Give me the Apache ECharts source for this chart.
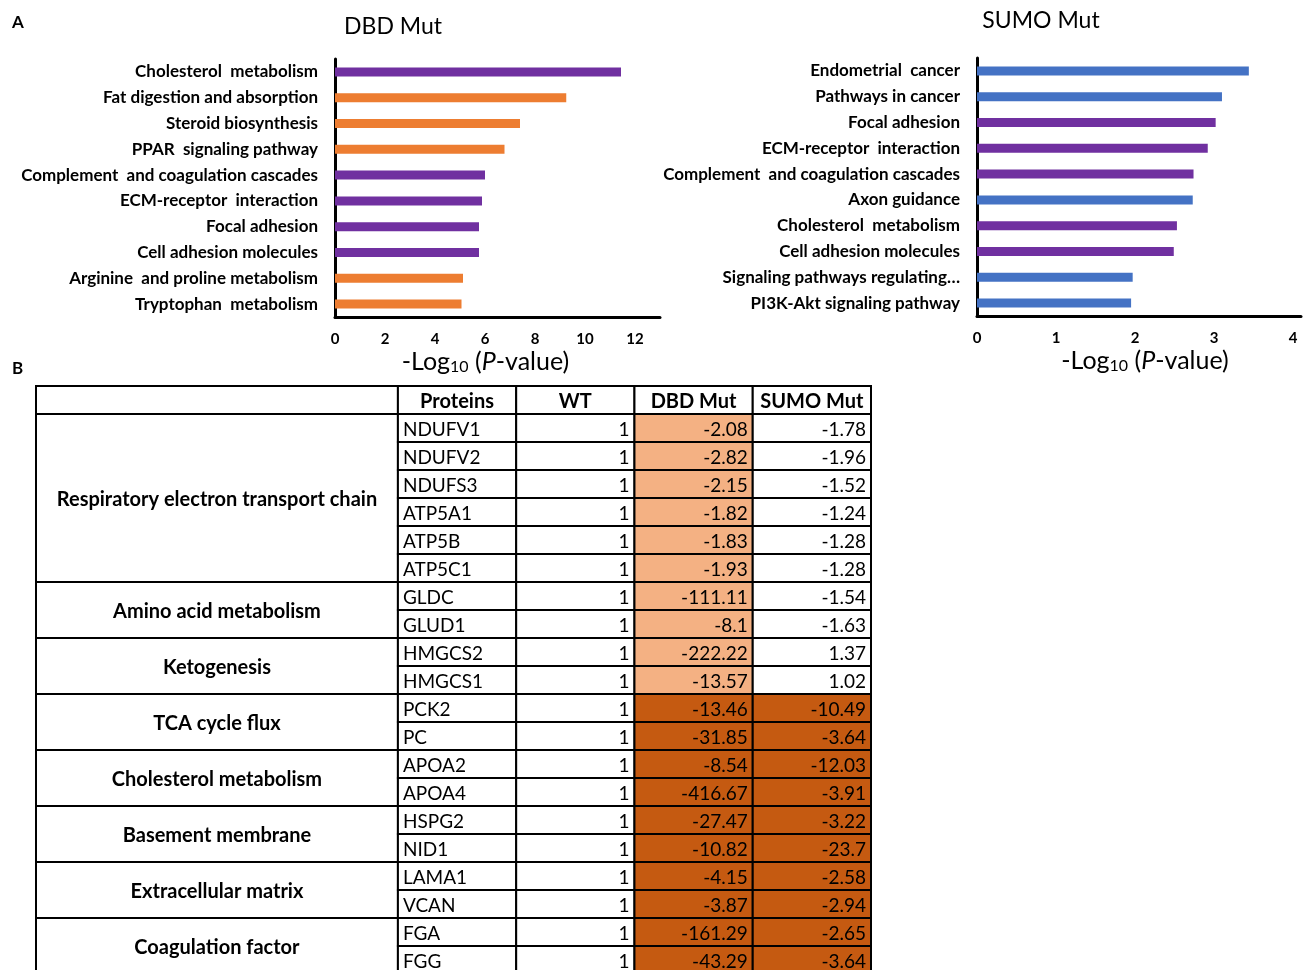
<!DOCTYPE html>
<html><head><meta charset="utf-8">
<script src="https://cdn.jsdelivr.net/npm/echarts@6/dist/echarts.min.js"></script>
<style>html,body{margin:0;padding:0;background:#fff}#c{width:1304px;height:970px}</style>
</head><body><div id="c"></div>
<script>
// ---------- Panel A data ----------
const dbdPathways = ['Cholesterol  metabolism','Fat digestion and absorption','Steroid biosynthesis','PPAR  signaling pathway','Complement  and coagulation cascades','ECM-receptor  interaction','Focal adhesion','Cell adhesion molecules','Arginine  and proline metabolism','Tryptophan  metabolism'];
const dbdValues = [11.44, 9.25, 7.40, 6.78, 6.00, 5.88, 5.76, 5.76, 5.12, 5.06];
const dbdShared = [true, false, false, false, true, true, true, true, false, false];
const dbdTickLabels = [0, 2, 4, 6, 8, 10, 12];

const sumoPathways = ['Endometrial  cancer','Pathways in cancer','Focal adhesion','ECM-receptor  interaction','Complement  and coagulation cascades','Axon guidance','Cholesterol  metabolism','Cell adhesion molecules','Signaling pathways regulating…','PI3K-Akt signaling pathway'];
const sumoValues = [3.44, 3.10, 3.02, 2.92, 2.74, 2.73, 2.53, 2.49, 1.97, 1.95];
const sumoShared = [false, false, true, true, true, false, true, true, false, false];
const sumoTickLabels = [0, 1, 2, 3, 4];

// ---------- Panel B data ----------
const tableHeaders = ['', 'Proteins', 'WT', 'DBD Mut', 'SUMO Mut'];
const groupNames = ['Respiratory electron transport chain','Amino acid metabolism','Ketogenesis','TCA cycle flux','Cholesterol metabolism','Basement membrane','Extracellular matrix','Coagulation factor'];
const groupSizes = [6, 2, 2, 2, 2, 2, 2, 2];
const groupLevel = ['dbd', 'dbd', 'dbd', 'both', 'both', 'both', 'both', 'both'];
const proteins = ['NDUFV1','NDUFV2','NDUFS3','ATP5A1','ATP5B','ATP5C1','GLDC','GLUD1','HMGCS2','HMGCS1','PCK2','PC','APOA2','APOA4','HSPG2','NID1','LAMA1','VCAN','FGA','FGG'];
const wtValues = [1,1,1,1,1,1,1,1,1,1,1,1,1,1,1,1,1,1,1,1];
const dbdFold = [-2.08,-2.82,-2.15,-1.82,-1.83,-1.93,-111.11,-8.1,-222.22,-13.57,-13.46,-31.85,-8.54,-416.67,-27.47,-10.82,-4.15,-3.87,-161.29,-43.29];
const sumoFold = [-1.78,-1.96,-1.52,-1.24,-1.28,-1.28,-1.54,-1.63,1.37,1.02,-10.49,-3.64,-12.03,-3.91,-3.22,-23.7,-2.58,-2.94,-2.65,-3.64];

// ---------- styling ----------
const FONT = 'Lato, "Liberation Sans", sans-serif';
const PURPLE = '#7030A0', ORANGE = '#ED7D31', BLUE = '#4472C4';
const LIGHT = '#F4B183', DARK = '#C55A11';

const chart = echarts.init(document.getElementById('c'), null, {renderer: 'canvas'});

const axisName = '{n|-Log}{s|10}{n| (}{i|P}{n|-value)}';
const nameRich = {
  n: {fontSize: 25, fontFamily: FONT, color: '#000'},
  s: {fontSize: 16, fontFamily: FONT, color: '#000', verticalAlign: 'bottom', padding: [11, 0, 0, 0]},
  i: {fontSize: 25, fontFamily: FONT, fontStyle: 'italic', color: '#000'}
};

function valueAxis(gridIndex, max, interval, ticks, namePad) {
  return {
    type: 'value', gridIndex, min: 0, max, interval,
    axisLine: {show: true, lineStyle: {color: '#000', width: 3}},
    axisTick: {show: false}, splitLine: {show: false},
    axisLabel: {color: '#000', fontFamily: FONT, fontWeight: 'bold', fontSize: 15, margin: 15,
      formatter: v => ticks.some(t => Math.abs(t - v) < 1e-9) ? String(Math.round(v)) : ''},
    name: axisName, nameLocation: 'middle', nameGap: 31,
    nameTextStyle: {rich: nameRich, padding: namePad}
  };
}
function catAxis(gridIndex, cats) {
  return {
    type: 'category', gridIndex, data: cats, inverse: true,
    axisLine: {show: true, lineStyle: {color: '#000', width: 3}},
    axisTick: {show: false},
    axisLabel: {color: '#000', fontFamily: FONT, fontWeight: 'bold', fontSize: 17, margin: 17, interval: 0}
  };
}

// ---------- table cells ----------
const colEdge = [0, 3.06, 4.06, 5.06, 6.06, 7.06];
const cells = [];
tableHeaders.forEach((h, c) => cells.push({x0: colEdge[c], x1: colEdge[c + 1], y0: 0, y1: 1, text: h, align: 'center', bold: true, fill: '#fff'}));
let start = 1;
groupNames.forEach((g, gi) => {
  cells.push({x0: colEdge[0], x1: colEdge[1], y0: start, y1: start + groupSizes[gi], text: g, align: 'center', bold: true, fill: '#fff'});
  for (let k = 0; k < groupSizes[gi]; k++) {
    const r = start + k - 1;
    const y0 = start + k, y1 = y0 + 1;
    cells.push({x0: colEdge[1], x1: colEdge[2], y0, y1, text: proteins[r], align: 'left', bold: false, fill: '#fff'});
    cells.push({x0: colEdge[2], x1: colEdge[3], y0, y1, text: String(wtValues[r]), align: 'right', bold: false, fill: '#fff'});
    cells.push({x0: colEdge[3], x1: colEdge[4], y0, y1, text: String(dbdFold[r]), align: 'right', bold: false, fill: groupLevel[gi] === 'dbd' ? LIGHT : DARK});
    cells.push({x0: colEdge[4], x1: colEdge[5], y0, y1, text: String(sumoFold[r]), align: 'right', bold: false, fill: groupLevel[gi] === 'both' ? DARK : '#fff'});
  }
  start += groupSizes[gi];
});
const totalRows = start;
const visibleRows = totalRows - 0.5;

const option = {
  backgroundColor: '#fff',
  animation: false,
  graphic: [
    {type: 'text', left: 12, top: 14, style: {text: 'A', font: 'bold 17px ' + FONT, fill: '#000'}},
    {type: 'text', left: 12, top: 360, style: {text: 'B', font: 'bold 17px ' + FONT, fill: '#000'}},
    {type: 'text', x: 393, y: 27, style: {text: 'DBD Mut', font: '23px ' + FONT, fill: '#000', align: 'center', verticalAlign: 'middle'}},
    {type: 'text', x: 1041, y: 21, style: {text: 'SUMO Mut', font: '23px ' + FONT, fill: '#000', align: 'center', verticalAlign: 'middle'}}
  ],
  grid: [
    {left: 335, width: 325, top: 59, height: 258},
    {left: 977, width: 324, top: 58, height: 258},
    {left: 36, width: 835, top: 386, height: 28 * visibleRows}
  ],
  xAxis: [
    valueAxis(0, 13, 1, dbdTickLabels, [0, 24, 0, 0]),
    valueAxis(1, 4.1, 1, sumoTickLabels, [0, 0, 0, 12]),
    {type: 'value', gridIndex: 2, min: 0, max: colEdge[colEdge.length - 1], show: false}
  ],
  yAxis: [
    catAxis(0, dbdPathways),
    catAxis(1, sumoPathways),
    {type: 'value', gridIndex: 2, min: 0, max: visibleRows, inverse: true, show: false}
  ],
  series: [
    {type: 'bar', xAxisIndex: 0, yAxisIndex: 0, barWidth: 9,
      data: dbdValues.map((v, i) => ({value: v, itemStyle: {color: dbdShared[i] ? PURPLE : ORANGE}}))},
    {type: 'bar', xAxisIndex: 1, yAxisIndex: 1, barWidth: 9,
      data: sumoValues.map((v, i) => ({value: v, itemStyle: {color: sumoShared[i] ? PURPLE : BLUE}}))},
    {type: 'custom', xAxisIndex: 2, yAxisIndex: 2, clip: false,
      data: cells.map(c => [c.x0, c.x1, c.y0, c.y1]),
      encode: {x: [0, 1], y: [2, 3]},
      renderItem: function (params, api) {
        const c = cells[params.dataIndex];
        const p0 = api.coord([c.x0, c.y0]);
        const p1 = api.coord([c.x1, c.y1]);
        const x = p0[0], y = p0[1], w = p1[0] - p0[0], h = p1[1] - p0[1];
        let tx = x + w / 2;
        if (c.align === 'left') tx = x + 5;
        if (c.align === 'right') tx = x + w - 5;
        return {
          type: 'group',
          children: [
            {type: 'rect', shape: {x, y, width: w, height: h}, style: {fill: c.fill, stroke: '#000', lineWidth: 2}},
            {type: 'text', style: {text: c.text, x: tx, y: y + h / 2 + 1.5, align: c.align, verticalAlign: 'middle',
              fontSize: c.bold ? 20 : 19, fontFamily: FONT, fontWeight: c.bold ? 'bold' : 'normal', fill: '#000'}}
          ]
        };
      }
    }
  ]
};
chart.setOption(option);
</script>
</body></html>
